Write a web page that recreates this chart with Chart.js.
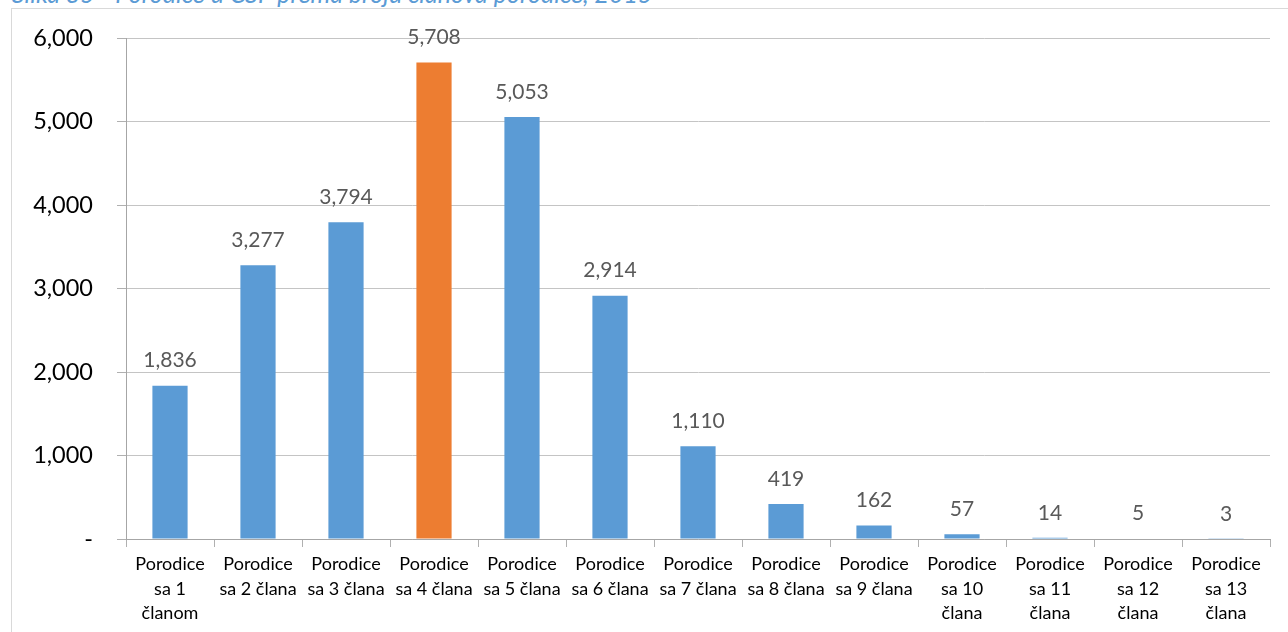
<!DOCTYPE html>
<html>
<head>
<meta charset="utf-8">
<script src="https://cdn.jsdelivr.net/npm/chart.js@4.4.0/dist/chart.umd.min.js"></script>
<style>
  body { margin: 0; background: #fff; overflow: hidden; font-family: Lato, sans-serif; }
  #title {
    position: absolute; left: 12px; top: -22px;
    font-size: 25px; font-style: italic; color: #5b9bd5; white-space: nowrap;
  }
  #frame {
    position: absolute; left: 11px; top: 8px; width: 1300px; height: 700px;
    border: 1px solid #d9d9d9; background: #fff;
  }
  #famChart { position: absolute; left: 0; top: 3px; }
</style>
</head>
<body>
<div id="title">Slika 35 - Porodice u CSP prema broju članova porodice, 2015</div>
<div id="frame">
  <canvas id="famChart" width="1276" height="620"></canvas>
</div>
<script>
// Categories (multi-line tick labels)
const categories = [
    ['Porodice', 'sa 1', 'članom'],
    ['Porodice', 'sa 2 člana'],
    ['Porodice', 'sa 3 člana'],
    ['Porodice', 'sa 4 člana'],
    ['Porodice', 'sa 5 člana'],
    ['Porodice', 'sa 6 člana'],
    ['Porodice', 'sa 7 člana'],
    ['Porodice', 'sa 8 člana'],
    ['Porodice', 'sa 9 člana'],
    ['Porodice', 'sa 10', 'člana'],
    ['Porodice', 'sa 11', 'člana'],
    ['Porodice', 'sa 12', 'člana'],
    ['Porodice', 'sa 13', 'člana']
];

// Number of families
const familyCounts = [1836, 3277, 3794, 5708, 5053, 2914, 1110, 419, 162, 57, 14, 5, 3];

// Highlighted bar (4 members)
const highlightIndex = 3;

const blue = '#5b9bd5';
const orange = '#ed7d31';

const fmt = v => v.toLocaleString('en-US');

// draws value labels above bars
const valueLabels = {
    id: 'valueLabels',
    afterDatasetsDraw(chart) {
        const ctx = chart.ctx;
        const meta = chart.getDatasetMeta(0);
        ctx.save();
        ctx.font = '21px Lato, sans-serif';
        ctx.fillStyle = '#595959';
        ctx.textAlign = 'center';
        ctx.textBaseline = 'middle';
        meta.data.forEach((bar, i) => {
            ctx.fillText(fmt(familyCounts[i]), bar.x, bar.y - 25);
        });
        ctx.restore();
    }
};

const config = {
    type: 'bar',
    data: {
        labels: categories,
        datasets: [{
            data: familyCounts,
            backgroundColor: familyCounts.map((v, i) => i === highlightIndex ? orange : blue),
            categoryPercentage: 1,
            barPercentage: 0.4
        }]
    },
    options: {
        responsive: false,
        animation: false,
        layout: { padding: { top: 26, right: 18, left: 0, bottom: 0 } },
        plugins: {
            legend: { display: false },
            tooltip: { enabled: false }
        },
        scales: {
            y: {
                min: 0,
                max: 6000,
                ticks: {
                    stepSize: 1000,
                    padding: 24,
                    color: '#000',
                    font: { family: 'Lato, sans-serif', size: 23.5 },
                    callback: v => v === 0 ? '-' : fmt(v)
                },
                grid: { color: '#c4c4c4', tickLength: 9, tickColor: '#b0b0b0' },
                border: { color: '#a6a6a6' },
                afterFit: s => { s.width = 114; s.paddingTop = 0; s.paddingBottom = 0; }
            },
            x: {
                ticks: {
                    padding: 5,
                    color: '#000',
                    maxRotation: 0,
                    autoSkip: false,
                    font: { family: 'Lato, sans-serif', size: 18, lineHeight: 1.36 }
                },
                grid: { drawOnChartArea: false, tickLength: 8, color: '#b0b0b0' },
                border: { color: '#a6a6a6' },
                afterFit: s => { s.height = 93; }
            }
        }
    },
    plugins: [valueLabels]
};

const myChart = new Chart(document.getElementById('famChart'), config);
</script>
</body>
</html>
